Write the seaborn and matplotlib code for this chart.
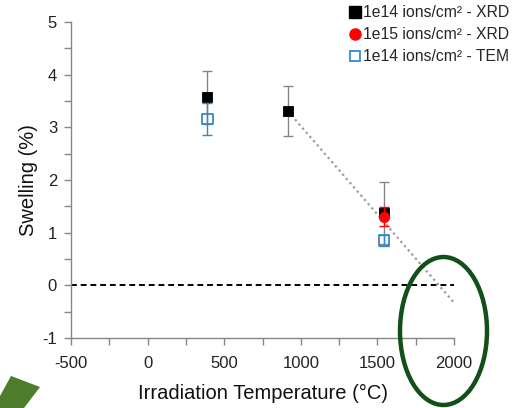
import pandas as pd
import matplotlib
matplotlib.use("Agg")
import matplotlib.pyplot as plt
from matplotlib.lines import Line2D
from matplotlib.patches import Ellipse, Polygon
from matplotlib.ticker import MultipleLocator
import seaborn as sns

# data
xrd14_temp = [390, 915, 1541]
xrd14_swell = [3.57, 3.31, 1.37]
xrd14_err = [0.50, 0.47, 0.59]

xrd15_temp = [1541]
xrd15_swell = [1.30]
xrd15_err = [0.18]

tem14_temp = [390, 1541]
tem14_swell = [3.16, 0.85]
tem14_err = [0.31, 0.10]

trend_temp = [915, 2000]
trend_swell = [3.31, -0.33]

labels = ["1e14 ions/cm² - XRD", "1e15 ions/cm² - XRD", "1e14 ions/cm² - TEM"]

sns.set_theme(style="white")
plt.rcParams['font.family'] = ['Liberation Sans', 'DejaVu Sans']
plt.rcParams['axes.unicode_minus'] = False

fig = plt.figure(figsize=(5.19, 4.08), dpi=100)
ax = fig.add_axes([0.1368, 0.1716, 0.738, 0.7744])

gray = "#868686"
blue = "#3a86cc"

# zero line and trend line
ax.axhline(0, color="black", lw=1.4, ls=(0, (3, 2)), zorder=1)
trend = pd.DataFrame({"T": trend_temp, "S": trend_swell})
sns.lineplot(data=trend, x="T", y="S", ax=ax, color="#9a9a9a", lw=1.6,
             linestyle=(0, (1, 1.5)), zorder=2)

# error bars
ax.errorbar(xrd14_temp, xrd14_swell, yerr=xrd14_err, fmt="none",
            ecolor=gray, elinewidth=1, capsize=3.5, capthick=1, zorder=3)
ax.errorbar(xrd15_temp, xrd15_swell, yerr=xrd15_err, fmt="none",
            ecolor="red", elinewidth=1, capsize=3.5, capthick=1, zorder=5)
ax.errorbar(tem14_temp, tem14_swell, yerr=tem14_err, fmt="none",
            ecolor=blue, elinewidth=1, capsize=3.5, capthick=1, zorder=7)

# markers
sns.scatterplot(x=xrd14_temp, y=xrd14_swell, ax=ax, marker="s", s=60,
                color="black", edgecolor="black", zorder=4)
sns.scatterplot(x=xrd15_temp, y=xrd15_swell, ax=ax, marker="o", s=55,
                color="red", edgecolor="red", zorder=6)
sns.scatterplot(x=tem14_temp, y=tem14_swell, ax=ax, marker="s", s=55,
                facecolor="none", edgecolor=blue, linewidth=1.3, zorder=8)

ax.set_xlim(-500, 2000)
ax.set_ylim(-1, 5)
ax.xaxis.set_major_locator(MultipleLocator(500))
ax.xaxis.set_minor_locator(MultipleLocator(250))
ax.yaxis.set_major_locator(MultipleLocator(1))
ax.yaxis.set_minor_locator(MultipleLocator(0.5))
ax.tick_params(which="both", direction="out", length=5, width=1, color=gray,
               bottom=True, left=True, labelsize=12, labelcolor="#222222")
ax.tick_params(axis="x", pad=8)
ax.tick_params(axis="y", pad=5)
for side in ["top", "right"]:
    ax.spines[side].set_visible(False)
for side in ["left", "bottom"]:
    ax.spines[side].set_color(gray)
    ax.spines[side].set_linewidth(1)

ax.set_xlabel("Irradiation Temperature (°C)", fontsize=14.5, color="#111111", labelpad=9)
ax.set_ylabel("Swelling (%)", fontsize=14.5, color="#111111", labelpad=3)

handles = [
    Line2D([], [], ls="none", marker="s", ms=8, mfc="black", mec="black"),
    Line2D([], [], ls="none", marker="o", ms=8, mfc="red", mec="red"),
    Line2D([], [], ls="none", marker="s", ms=7.5, mfc="none", mec=blue, mew=1.3),
]
fig.legend(handles, labels, loc="upper right", bbox_to_anchor=(1.0, 1.01),
           frameon=False, fontsize=11.3, handlelength=0.7, handletextpad=0.15,
           labelspacing=0.45, borderaxespad=0.2)

# annotations: green ellipse and arrow
ell = Ellipse((443.5 / 519, 1 - 331 / 408), 87 / 519, 148 / 408,
              transform=fig.transFigure, fill=False, edgecolor="#12501a",
              lw=3.2, zorder=20, clip_on=False)
fig.patches.append(ell)
arrow_px = [(0, 396), (11, 376), (40, 387), (24, 408), (0, 408)]
arrow = Polygon([(x / 519, 1 - y / 408) for x, y in arrow_px],
                transform=fig.transFigure, closed=True,
                facecolor="#4c7c2c", edgecolor="none", zorder=20)
fig.patches.append(arrow)

fig.savefig("out.png", dpi=100)
